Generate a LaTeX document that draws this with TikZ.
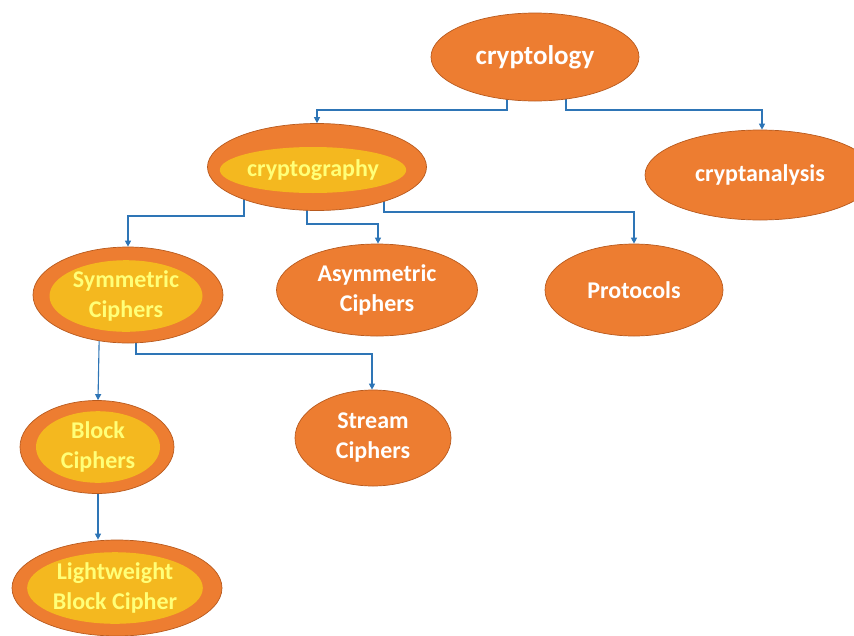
\documentclass[tikz,border=0pt]{standalone}
\usepackage{fontspec}
\setmainfont{Carlito}
\usetikzlibrary{arrows.meta,calc,backgrounds,shapes.geometric}
\definecolor{org}{HTML}{ED7D31}
\definecolor{orgline}{HTML}{B85A1E}
\definecolor{yel}{HTML}{F4B81F}
\definecolor{ytext}{HTML}{FFFF78}
\definecolor{conn}{HTML}{2E75B6}
\tikzset{
  outer/.style={ellipse, draw=orgline, line width=0.7pt, fill=org, inner sep=0pt},
  inner/.style={ellipse, fill=yel, inner sep=0pt, align=center,
     font=\bfseries\fontsize{24}{30}\selectfont, text=ytext},
  plain/.style={outer, align=center, font=\bfseries\fontsize{24}{30}\selectfont, text=white},
  link/.style={draw=conn, line width=1.1pt, -{Triangle[width=6pt,length=6pt]}}
}
\begin{document}
\begin{tikzpicture}[x=1pt,y=-1pt]
\useasboundingbox (0,0) rectangle (854,635);
\node[plain, minimum width=208pt, minimum height=88pt, font=\bfseries\fontsize{27}{30}\selectfont] (cl) at (535,57) {cryptology};
\node[plain, minimum width=230pt, minimum height=90pt] (ca) at (760,175) {cryptanalysis};
\node[outer, minimum width=219pt, minimum height=87pt] (cg) at (317,167) {};
\node[inner, minimum width=159pt, minimum height=46pt] (cgi) at (313,170) {cryptography};
\node[outer, minimum width=190pt, minimum height=96pt] (sy) at (128,295) {};
\node[inner, minimum width=153pt, minimum height=67pt] (syi) at (126,296) {Symmetric\\Ciphers};
\node[plain, minimum width=201pt, minimum height=92pt] (as) at (377,290) {Asymmetric\\Ciphers};
\node[plain, minimum width=178pt, minimum height=92pt] (pr) at (634,290) {Protocols};
\node[outer, minimum width=154pt, minimum height=93pt] (bl) at (97,447) {};
\node[inner, minimum width=124pt, minimum height=67pt] (bli) at (98,447) {Block\\Ciphers};
\node[plain, minimum width=156pt, minimum height=96pt] (st) at (373,438) {Stream\\Ciphers};
\node[outer, minimum width=210pt, minimum height=96pt] (lw) at (117,588) {};
\node[inner, minimum width=156pt, minimum height=65pt] (lwi) at (115,588) {Lightweight\\Block Cipher};
\begin{pgfonlayer}{background}
\draw[link] ($(cl.center)+(-28,0)$) -- ($(cl.center)+(-28,53)$) -| (cg.north);
\draw[link] ($(cl.center)+(31,0)$) -- ($(cl.center)+(31,53)$) -| ($(ca.north)+(2,0)$);
\draw[link] ($(cg.center)+(-73,0)$) -- ($(cg.center)+(-73,49)$) -| (sy.north);
\draw[link] ($(cg.center)+(-10,0)$) -- ($(cg.center)+(-10,57)$) -| ($(as.north)+(1,0)$);
\draw[link] ($(cg.center)+(67,0)$) -- ($(cg.center)+(67,45)$) -| (pr.north);
\draw[link] ($(sy.center)+(-28,0)$) -- ($(bl.north)+(1,0)$);
\draw[link] ($(sy.center)+(8,0)$) -- ($(sy.center)+(8,59)$) -| ($(st.north)+(-1,0)$);
\draw[link] ($(bl.center)+(1,0)$) -- ($(bl.north |- lw.north)+(1,0)$);
\end{pgfonlayer}
\end{tikzpicture}
\end{document}
